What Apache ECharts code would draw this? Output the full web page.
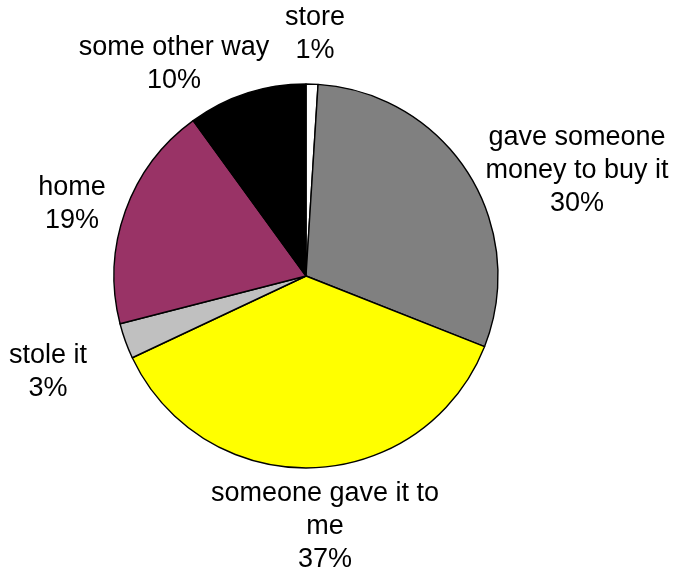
<!DOCTYPE html>
<html>
<head>
<meta charset="utf-8">
<script src="https://cdn.jsdelivr.net/npm/echarts@6/dist/echarts.min.js"></script>
<style>
  html, body { margin: 0; padding: 0; background: #fff; }
  #chart { width: 674px; height: 575px; }
</style>
</head>
<body>
<div id="chart"></div>
<script>
// Where the item was obtained, share of respondents (%)
const categories = [
  'store',
  'gave someone\nmoney to buy it',
  'someone gave it to\nme',
  'stole it',
  'home',
  'some other way'
];
const shares = [1, 30, 37, 3, 19, 10];
const sliceColors = ['#FFFFFF', '#808080', '#FFFF00', '#C0C0C0', '#993366', '#000000'];

// Centre of each label block, in pixels
const labelSpots = [
  [315, 34],
  [577, 171],
  [325, 527],
  [48, 372],
  [72, 204],
  [174, 64]
];

const chart = echarts.init(document.getElementById('chart'), null, { renderer: 'canvas' });

chart.setOption({
  animation: false,
  backgroundColor: '#ffffff',
  series: [{
    type: 'pie',
    center: [306, 276],
    radius: [0, 192],
    startAngle: 90,
    clockwise: true,
    avoidLabelOverlap: false,
    data: categories.map((name, i) => ({
      name: name,
      value: shares[i],
      itemStyle: { color: sliceColors[i] }
    })),
    itemStyle: { borderColor: '#000000', borderWidth: 1.4 },
    label: {
      show: true,
      position: 'outside',
      formatter: '{b}\n{d}%',
      color: '#000000',
      fontFamily: 'Liberation Sans, Arial, sans-serif',
      fontSize: 27,
      lineHeight: 33,
      align: 'center'
    },
    labelLine: { show: false },
    labelLayout: function (params) {
      const p = labelSpots[params.dataIndex];
      return { x: p[0], y: p[1], align: 'center', verticalAlign: 'middle' };
    },
    emphasis: { disabled: true }
  }]
});
</script>
</body>
</html>
